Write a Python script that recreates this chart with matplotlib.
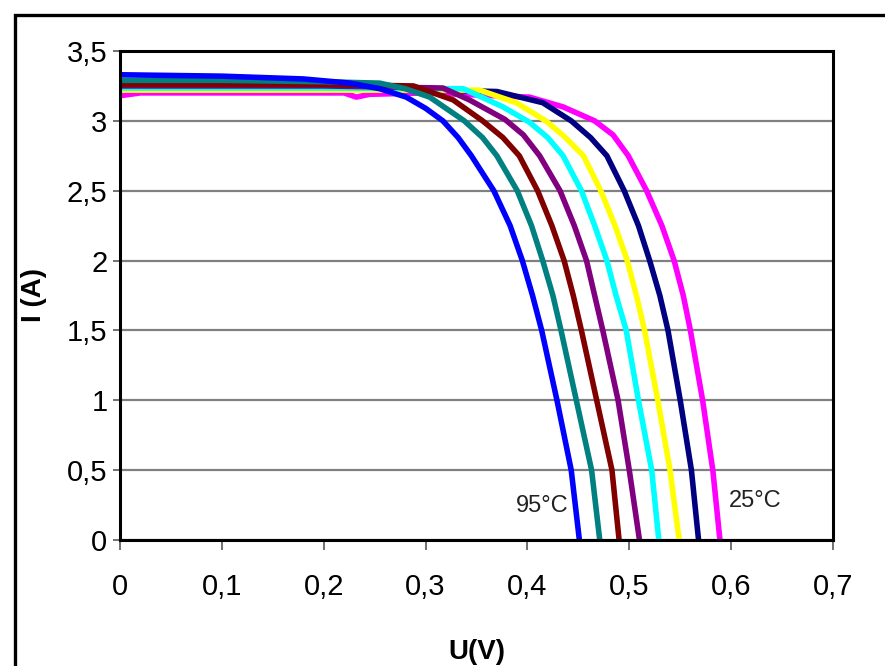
import matplotlib.pyplot as plt
from matplotlib.patches import Rectangle
from matplotlib.ticker import FuncFormatter

plt.rcParams['font.family'] = ['Liberation Sans', 'DejaVu Sans']

# I-V curves of a solar cell, 25..95 degC (voltage V, current A)
v_25 = [0, 0.02, 0.22, 0.232, 0.245, 0.30, 0.402, 0.435, 0.466, 0.484, 0.499, 0.517, 0.532, 0.544, 0.553, 0.560, 0.572, 0.582, 0.589]
i_25 = [3.18, 3.20, 3.20, 3.17, 3.19, 3.20, 3.17, 3.10, 3.00, 2.90, 2.75, 2.5, 2.25, 2.0, 1.75, 1.5, 1.0, 0.5, 0.0]

v_35 = [0, 0.2, 0.370, 0.415, 0.443, 0.462, 0.478, 0.495, 0.509, 0.520, 0.530, 0.538, 0.550, 0.561, 0.568]
i_35 = [3.25, 3.24, 3.21, 3.13, 3.00, 2.88, 2.75, 2.5, 2.25, 2.0, 1.75, 1.5, 1.0, 0.5, 0.0]

v_45 = [0, 0.2, 0.353, 0.389, 0.418, 0.436, 0.455, 0.472, 0.486, 0.498, 0.507, 0.515, 0.528, 0.540, 0.549]
i_45 = [3.22, 3.22, 3.22, 3.13, 3.00, 2.89, 2.75, 2.5, 2.25, 2.0, 1.75, 1.5, 1.0, 0.5, 0.0]

v_55 = [0, 0.2, 0.337, 0.376, 0.402, 0.420, 0.435, 0.453, 0.466, 0.478, 0.487, 0.497, 0.509, 0.522, 0.529]
i_55 = [3.235, 3.235, 3.23, 3.10, 2.99, 2.88, 2.75, 2.5, 2.25, 2.0, 1.75, 1.5, 1.0, 0.5, 0.0]

v_65 = [0, 0.2, 0.317, 0.343, 0.378, 0.396, 0.412, 0.432, 0.446, 0.458, 0.466, 0.474, 0.489, 0.500, 0.510]
i_65 = [3.25, 3.25, 3.235, 3.15, 3.01, 2.90, 2.75, 2.5, 2.25, 2.0, 1.75, 1.5, 1.0, 0.5, 0.0]

v_75 = [0, 0.2, 0.288, 0.327, 0.356, 0.376, 0.392, 0.410, 0.424, 0.436, 0.445, 0.453, 0.468, 0.483, 0.490]
i_75 = [3.26, 3.26, 3.25, 3.15, 3.00, 2.88, 2.75, 2.5, 2.25, 2.0, 1.75, 1.5, 1.0, 0.5, 0.0]

v_85 = [0, 0.1, 0.2, 0.255, 0.28, 0.304, 0.338, 0.356, 0.370, 0.390, 0.404, 0.415, 0.425, 0.433, 0.448, 0.463, 0.471]
i_85 = [3.29, 3.29, 3.28, 3.27, 3.23, 3.17, 3.00, 2.88, 2.75, 2.5, 2.25, 2.0, 1.75, 1.5, 1.0, 0.5, 0.0]

v_95 = [0, 0.1, 0.18, 0.226, 0.255, 0.281, 0.30, 0.317, 0.332, 0.345, 0.367, 0.383, 0.395, 0.405, 0.414, 0.429, 0.443, 0.451]
i_95 = [3.33, 3.32, 3.30, 3.27, 3.23, 3.17, 3.09, 3.00, 2.88, 2.75, 2.5, 2.25, 2.0, 1.75, 1.5, 1.0, 0.5, 0.0]

curves = [
    (v_25, i_25, '#ff00ff'),
    (v_35, i_35, '#000080'),
    (v_45, i_45, '#ffff00'),
    (v_55, i_55, '#00ffff'),
    (v_65, i_65, '#800080'),
    (v_75, i_75, '#800000'),
    (v_85, i_85, '#008080'),
    (v_95, i_95, '#0000ff'),
]

x_ticks = [0, 0.1, 0.2, 0.3, 0.4, 0.5, 0.6, 0.7]
y_ticks = [0, 0.5, 1, 1.5, 2, 2.5, 3, 3.5]


def comma(x, pos):
    return ('%g' % round(x, 2)).replace('.', ',')


fig = plt.figure(figsize=(8.85, 6.66), dpi=100)
ax = fig.add_axes([120 / 885, 1 - 540 / 666, 713 / 885, 489 / 666])

for v, i, c in curves:
    ax.plot(v, i, color=c, linewidth=4.0, solid_joinstyle='round', solid_capstyle='butt', zorder=3)

ax.set_xlim(0, 0.7)
ax.set_ylim(0, 3.5)
ax.set_xticks(x_ticks)
ax.set_yticks(y_ticks)
ax.xaxis.set_major_formatter(FuncFormatter(comma))
ax.yaxis.set_major_formatter(FuncFormatter(comma))
ax.grid(axis='y', color='#808080', linewidth=1.6, zorder=1)
ax.set_axisbelow(True)

for s in ax.spines.values():
    s.set_linewidth(2.2)
    s.set_color('black')
    s.set_zorder(4)

ax.tick_params(axis='x', direction='out', length=7, width=1.3, color='#666666',
               labelsize=21, pad=17)
ax.tick_params(axis='y', direction='out', length=5, width=1.3, color='#666666',
               labelsize=21, pad=4)

ax.set_xlabel('U(V)', fontsize=20, fontweight='bold', labelpad=27)
ax.set_ylabel('I (A)', fontsize=20, fontweight='bold', labelpad=14)

ax.text(0.414, 0.24, '95°C', fontsize=17, color='#222222', ha='center', va='center')
ax.text(0.624, 0.28, '25°C', fontsize=17, color='#222222', ha='center', va='center')

# outer frame of the picture
fig.patches.append(Rectangle((15 / 885, -0.2), 1.2, 1.2 - 15 / 666,
                             transform=fig.transFigure, fill=False,
                             edgecolor='black', linewidth=2.4, clip_on=False))

fig.savefig('out.png', dpi=100)
